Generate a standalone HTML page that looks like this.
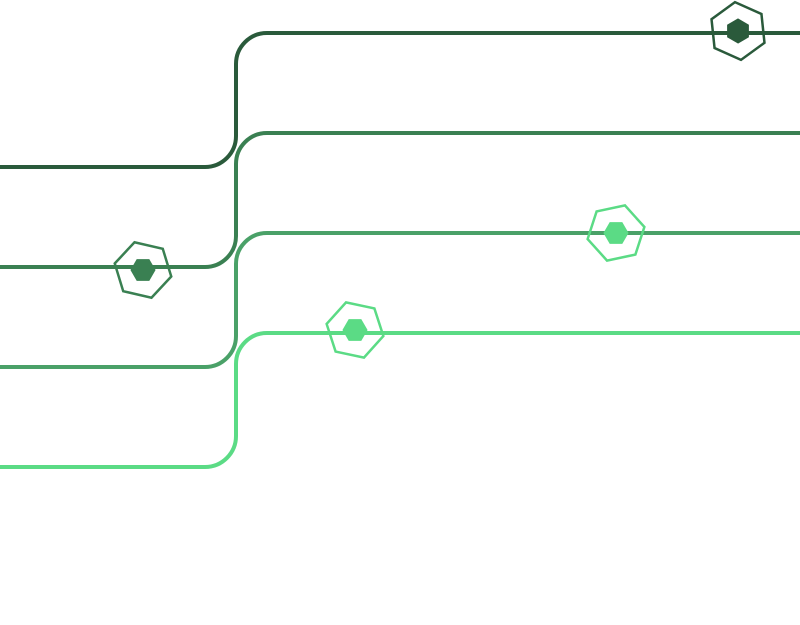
<!DOCTYPE html>
<html><head><style>html,body{margin:0;padding:0;background:#fff}svg{display:block}</style></head>
<body>
<svg width="800" height="625" viewBox="0 0 800 625" xmlns="http://www.w3.org/2000/svg">
<defs>
<polygon id="o" points="29,0 14.5,25.1 -14.5,25.1 -29,0 -14.5,-25.1 14.5,-25.1" fill="none" stroke-width="2.5"/>
<polygon id="i" points="12,0 6,10.4 -6,10.4 -12,0 -6,-10.4 6,-10.4"/>
</defs>
<g fill="none" stroke-width="4">
<path d="M0 167 H205 A31 31 0 0 0 236 136 V64 A31 31 0 0 1 267 33 H800" stroke="#2a5a3b"/>
<path d="M0 267 H205 A31 31 0 0 0 236 236 V164 A31 31 0 0 1 267 133 H800" stroke="#3a8052"/>
<path d="M0 367 H205 A31 31 0 0 0 236 336 V264 A31 31 0 0 1 267 233 H800" stroke="#4aa168"/>
<path d="M0 467 H205 A31 31 0 0 0 236 436 V364 A31 31 0 0 1 267 333 H800" stroke="#5bdb85"/>
</g>
<g transform="translate(738,31)" stroke="#2a5a3b" fill="#2a5a3b"><use href="#o" transform="rotate(84)"/><use href="#i" transform="rotate(90)"/></g>
<g transform="translate(143,270)" stroke="#3a8052" fill="#3a8052"><use href="#o" transform="rotate(13)"/><use href="#i"/></g>
<g transform="translate(616,233)" stroke="#5bdb85" fill="#5bdb85"><use href="#o" transform="rotate(-12)"/><use href="#i"/></g>
<g transform="translate(355,330)" stroke="#5bdb85" fill="#5bdb85"><use href="#o" transform="rotate(12)"/><use href="#i"/></g>
</svg>
</body></html>
